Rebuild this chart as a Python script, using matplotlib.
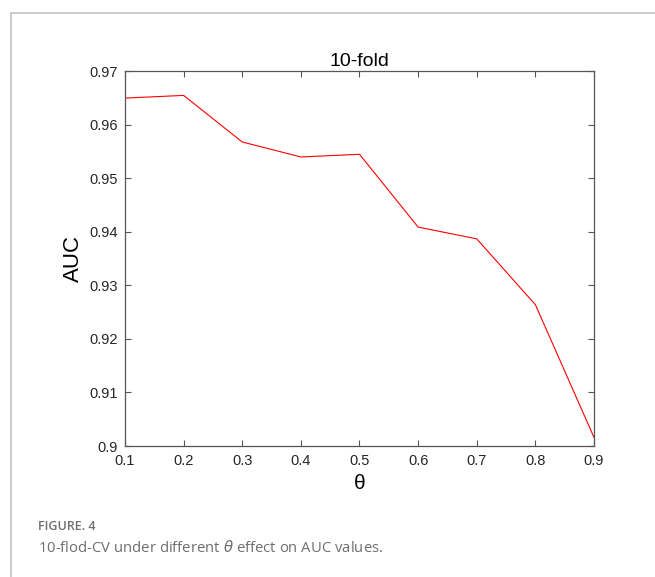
import matplotlib.pyplot as plt
from matplotlib.lines import Line2D

# Data
theta = [0.1, 0.2, 0.3, 0.4, 0.5, 0.6, 0.7, 0.8, 0.9]
auc = [0.9650, 0.9655, 0.9568, 0.9540, 0.9545, 0.9409, 0.9387, 0.9264, 0.9016]
yticks = [0.9, 0.91, 0.92, 0.93, 0.94, 0.95, 0.96, 0.97]
ytick_labels = ["0.9", "0.91", "0.92", "0.93", "0.94", "0.95", "0.96", "0.97"]

plt.rcParams["font.family"] = ["Liberation Sans", "DejaVu Sans"]

fig = plt.figure(figsize=(6.55, 5.77), dpi=100)
ax = fig.add_axes([0.1908, 0.2270, 0.7161, 0.6494])

ax.plot(theta, auc, color="#ff0000", linewidth=0.8)

ax.set_xlim(0.1, 0.9)
ax.set_ylim(0.9, 0.97)
ax.set_xticks(theta)
ax.set_xticklabels([f"{t:g}" for t in theta])
ax.set_yticks(yticks)
ax.set_yticklabels(ytick_labels)

ax.tick_params(direction="in", top=True, right=True, length=4, width=0.8,
               colors="#555555", labelcolor="#262626", labelsize=10.5)
ax.tick_params(axis="x", pad=6)
ax.tick_params(axis="y", pad=5)
for s in ax.spines.values():
    s.set_color("#555555")
    s.set_linewidth(0.9)

ax.set_title("10-fold", fontsize=14, color="black", pad=4)
ax.set_xlabel("θ", fontsize=15, labelpad=4)
ax.set_ylabel("AUC", fontsize=16, labelpad=4)

# ---- frame & caption ----
fig.add_artist(Line2D([11 / 655, 1], [1 - 13 / 577, 1 - 13 / 577],
                      transform=fig.transFigure, color="#c4c4c4", linewidth=1.2))
fig.add_artist(Line2D([11 / 655, 11 / 655], [0, 1 - 13 / 577],
                      transform=fig.transFigure, color="#c4c4c4", linewidth=1.2))

fig.text(38 / 655, 1 - 526 / 577, "FIGURE. 4", fontsize=9, color="#6e6e6e",
         family=["Open Sans", "DejaVu Sans"], weight="semibold", va="center")
fig.text(38 / 655, 1 - 548 / 577, r"10-flod-CV under different $\theta$ effect on AUC values.",
         fontsize=10.7, color="#6e6e6e", family=["Open Sans", "DejaVu Sans"],
         va="center")

fig.savefig("out.png", dpi=100)
